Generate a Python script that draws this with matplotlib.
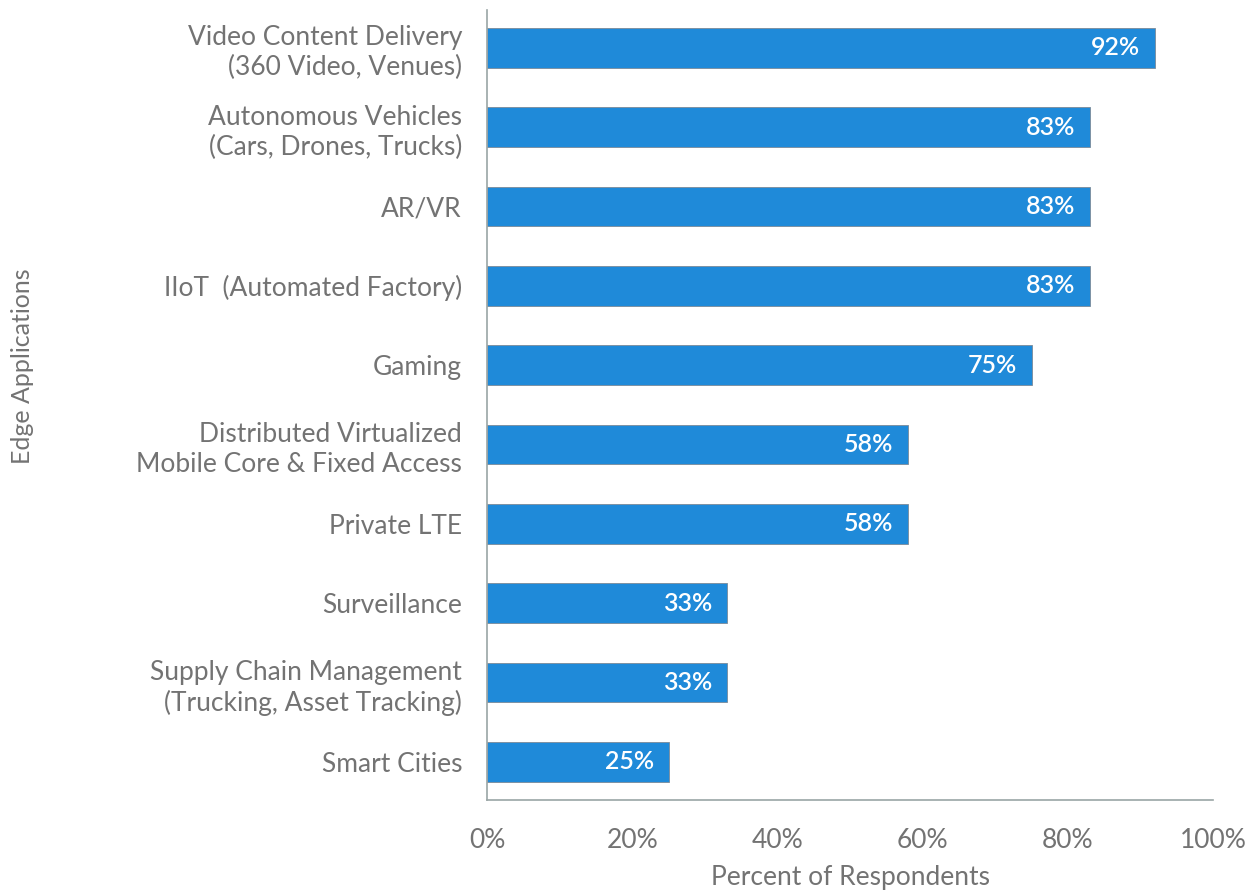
import matplotlib.pyplot as plt
import numpy as np

plt.rcParams['font.family'] = ['Lato', 'DejaVu Sans']

categories = [
    'Video Content Delivery\n(360 Video, Venues)',
    'Autonomous Vehicles\n(Cars, Drones, Trucks)',
    'AR/VR',
    'IIoT  (Automated Factory)',
    'Gaming',
    'Distributed Virtualized\nMobile Core & Fixed Access',
    'Private LTE',
    'Surveillance',
    'Supply Chain Management\n(Trucking, Asset Tracking)',
    'Smart Cities',
]
values = [92, 83, 83, 83, 75, 58, 58, 33, 33, 25]
xticks = [0, 20, 40, 60, 80, 100]

gray = '#737373'
blue = '#1f8ad9'

fig = plt.figure(figsize=(12.53, 8.92), dpi=100)
ax = fig.add_axes([0.3887, 0.1031, 0.5794, 0.886])

y = np.arange(len(categories))
ax.barh(y, values, height=0.5, color=blue, edgecolor='#7a8a99', linewidth=0.6)
for yi, v in zip(y, values):
    ax.text(v - 2.0, yi, f'{v}%', ha='right', va='center', color='white',
            fontsize=18, fontweight='semibold')

ax.set_ylim(9.48, -0.48)
ax.set_xlim(0, 100)
ax.set_yticks(y)
ax.set_yticklabels(categories, fontsize=19, color=gray, linespacing=1.25)
ax.set_xticks(xticks)
ax.set_xticklabels([f'{t}%' for t in xticks], fontsize=19, color=gray)
ax.tick_params(axis='both', length=0)
ax.tick_params(axis='y', pad=18)
ax.tick_params(axis='x', pad=20)

for s in ['top', 'right']:
    ax.spines[s].set_visible(False)
for s in ['left', 'bottom']:
    ax.spines[s].set_color('#9aa5a5')
    ax.spines[s].set_linewidth(1.2)

ax.set_xlabel('Percent of Respondents', fontsize=19, color=gray, labelpad=9)
fig.text(0.018, 0.589, 'Edge Applications', rotation=90, ha='center', va='center',
         fontsize=18, color=gray)

fig.savefig('out.png', dpi=100)
